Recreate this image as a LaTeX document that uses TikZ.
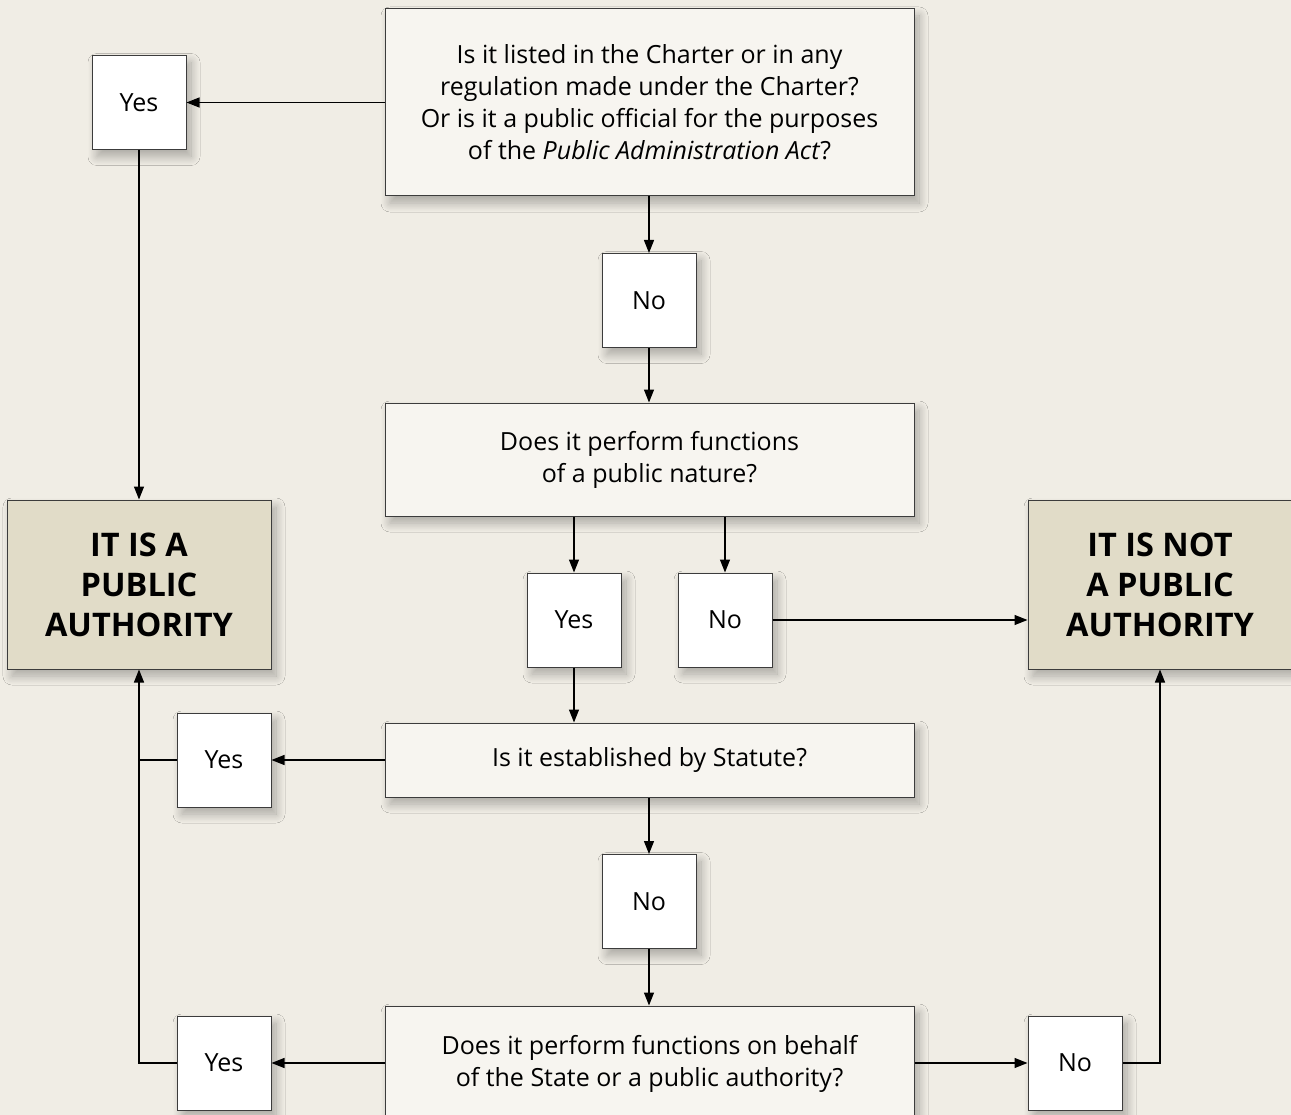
\documentclass[tikz,border=0pt]{standalone}
\usepackage{fontspec}
\setmainfont{Open Sans}
\usetikzlibrary{arrows.meta,shadows.blur}
\definecolor{bgcol}{RGB}{240,237,229}
\definecolor{qcol}{RGB}{247,245,240}
\definecolor{rescol}{RGB}{225,220,200}
\definecolor{edgecol}{RGB}{60,60,60}
\tikzset{
  base/.style={draw=edgecol, line width=1pt, inner sep=0pt, align=center,
    blur shadow={shadow xshift=5pt, shadow yshift=-7pt, shadow blur radius=9pt, shadow blur steps=16, shadow opacity=30}},
  qbox/.style={base, fill=qcol, minimum width=529pt, font=\fontsize{25}{32}\selectfont},
  ansbox/.style={base, fill=white, minimum width=94pt, minimum height=94pt, font=\fontsize{25}{32}\selectfont},
  resbox/.style={base, fill=rescol, minimum width=264pt, minimum height=169pt, font=\fontsize{32.5}{40}\selectfont\bfseries},
  conn/.style={line width=1.2pt, -{Triangle[length=13pt,width=10pt]}},
  plain/.style={line width=1.2pt},
}
\begin{document}
\begin{tikzpicture}[x=1pt,y=-1pt]
\fill[bgcol] (0,0) rectangle (1291,1115);
\useasboundingbox (0,0) rectangle (1291,1115);
\node[qbox, minimum height=187pt] (q1) at (649.5,102.5) {Is it listed in the Charter or in any\\regulation made under the Charter?\\Or is it a public official for the purposes\\of the \textit{Public Administration Act}?};
\node[ansbox] (y1) at (139,102.5) {Yes};
\node[ansbox] (n1) at (649,300.5) {No};
\node[qbox, minimum height=113pt] (q2) at (649.5,459.5) {Does it perform functions\\of a public nature?};
\node[ansbox] (y2) at (574,620) {Yes};
\node[ansbox] (n2) at (725,620) {No};
\node[resbox] (pa) at (139,584.5) {IT IS A\\PUBLIC\\AUTHORITY};
\node[resbox] (npa) at (1160,584.5) {IT IS NOT\\A PUBLIC\\AUTHORITY};
\node[qbox, minimum height=74pt] (q3) at (649.5,760) {Is it established by Statute?};
\node[ansbox] (y3) at (224,760) {Yes};
\node[ansbox] (n3) at (649,901.5) {No};
\node[qbox, minimum height=116pt] (q4) at (649.5,1064) {Does it perform functions on behalf\\of the State or a public authority?};
\node[ansbox] (y4) at (224,1063) {Yes};
\node[ansbox] (n4) at (1075,1063) {No};
\coordinate (j3) at (139,760);
\coordinate (j4) at (139,1063);
\coordinate (k4) at (1160,1063);
\draw[conn] (q1.west |- y1) -- (y1.east);
\draw[conn] (y1.south) -- (pa.north);
\draw[conn] (q1.south -| n1) -- (n1.north);
\draw[conn] (n1.south) -- (q2.north -| n1);
\draw[conn] (q2.south -| y2) -- (y2.north);
\draw[conn] (q2.south -| n2) -- (n2.north);
\draw[conn] (n2.east) -- (npa.west |- n2);
\draw[conn] (y2.south) -- (q3.north -| y2);
\draw[conn] (q3.west) -- (y3.east);
\draw[plain] (y3.west) -- (j3);
\draw[conn] (q3.south -| n3) -- (n3.north);
\draw[conn] (n3.south) -- (q4.north -| n3);
\draw[conn] (q4.west |- y4) -- (y4.east);
\draw[conn] (q4.east |- n4) -- (n4.west);
\draw[conn] (y4.west) -- (j4) -- (pa.south);
\draw[conn] (n4.east) -- (k4) -- (npa.south);
\end{tikzpicture}
\end{document}
